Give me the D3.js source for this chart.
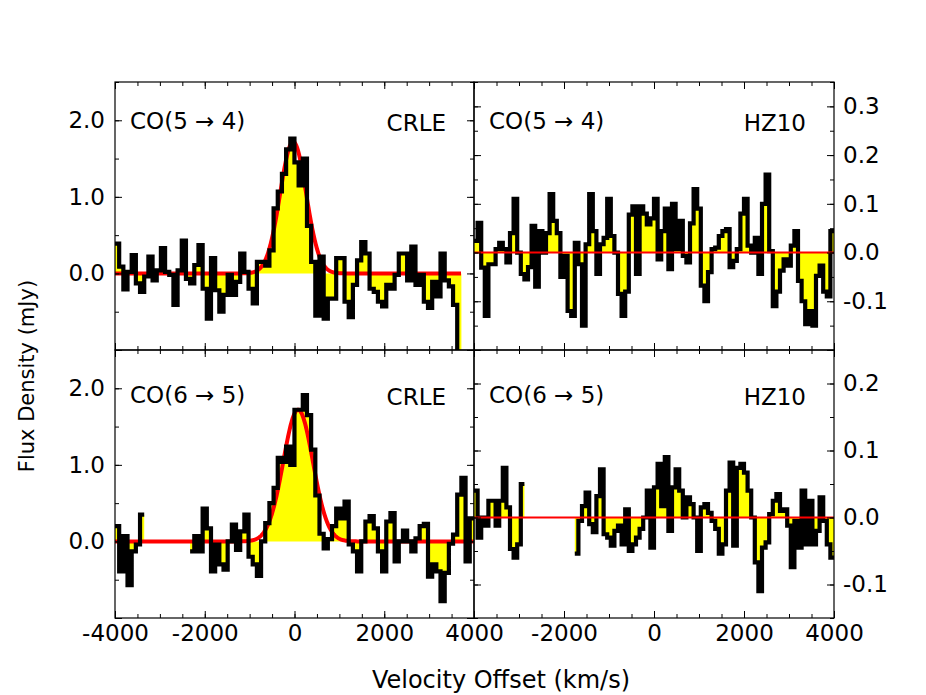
<!DOCTYPE html>
<html>
<head>
<meta charset="utf-8">
<script src="https://cdn.jsdelivr.net/npm/d3@7"></script>
<style>
  body { margin: 0; background: #fff; }
  svg text { font-family: "DejaVu Sans", sans-serif; fill: #000; }
</style>
</head>
<body>
<svg id="chart" width="926" height="695"></svg>
<script>
'use strict';

// channel grids (km/s)
const crleChanStart = -4000;
const crleChanWidth = 93;
const hz10ChanStart = -4000;
const hz10ChanWidth = 80;

// flux density per channel (mJy), null = no data
const crleCO54 = [
  0.39, 0.09, -0.21, 0.02, 0.24, -0.13, -0.24, -0.04, 0.22, -0.09,
  0.04, 0.33, 0.02, -0.02, -0.41, 0.04, 0.43, -0.07, -0.13, 0.11,
  0.37, -0.2, -0.59, 0.2, -0.22, -0.5, -0.28, -0.02, -0.28, -0.11,
  0.26, 0.02, -0.2, -0.39, 0.15, 0.15, 0.1, 0.3, 0.85, 1.07,
  1.3, 1.62, 1.76, 1.45, 1.15, 1.5, 0.62, 0.15, -0.55, 0.22,
  -0.59, -0.33, -0.33, 0.2, 0.2, -0.37, -0.57, -0.15, 0.17, 0.41,
  0.26, -0.2, -0.24, -0.37, -0.43, -0.15, -0.2, -0.02, 0.26, 0.26,
  -0.09, 0.35, -0.15, -0.02, -0.37, -0.45, -0.11, -0.3, 0.26, -0.09,
  -0.17, -0.41, -1.3
];

const crleCO65 = [
  0.2, -0.39, 0.07, -0.57, -0.13, -0.04, 0.35, null, null, null,
  null, null, null, null, null, null, null, null, -0.13, 0.07,
  -0.13, 0.43, 0.17, -0.39, -0.04, -0.3, -0.37, 0.0, 0.22, -0.11,
  0.13, 0.35, -0.2, -0.3, -0.45, 0.0, 0.24, 0.5, 0.7, 1.09,
  1.04, 1.24, 1.0, 1.72, 1.72, 1.91, 1.65, 1.2, 0.6, 0.1,
  -0.09, 0.03, 0.2, 0.43, 0.3, 0.52, -0.04, -0.13, -0.39, 0.0,
  0.26, 0.33, 0.17, -0.13, -0.39, 0.26, 0.37, -0.26, 0.0, 0.14,
  0.0, -0.13, 0.04, 0.2, 0.23, -0.46, -0.3, -0.39, -0.78, -0.41,
  -0.03, 0.09, 0.61, 0.83, -0.26, 0.3
];

const hz10CO54 = [
  0.024, 0.061, -0.031, -0.13, -0.024, -0.024, 0.007, 0.02, 0.007, -0.02,
  0.04, 0.11, 0.0, -0.044, -0.055, -0.03, 0.055, -0.07, 0.044, 0.0,
  0.04, 0.12, 0.065, 0.04, -0.05, -0.007, -0.12, -0.13, 0.02, -0.024,
  -0.15, 0.017, 0.12, 0.044, -0.044, 0.017, 0.03, 0.11, 0.034, 0.0,
  -0.085, -0.13, -0.08, 0.078, 0.095, -0.044, 0.095, 0.08, 0.058, 0.07,
  0.11, -0.014, 0.044, 0.09, -0.034, 0.1, 0.007, 0.065, -0.007, -0.02,
  0.06, 0.13, 0.09, -0.068, -0.1, -0.04, 0.007, 0.01, 0.034, 0.044,
  0.048, -0.03, -0.017, 0.007, 0.08, 0.11, 0.014, 0.0, 0.03, -0.044,
  0.1, 0.16, 0.003, -0.11, -0.08, -0.037, -0.014, -0.027, 0.014, 0.044,
  -0.058, -0.1, -0.147, -0.12, -0.15, -0.048, -0.027, -0.08, -0.09, 0.044
];

const hz10CO65 = [
  0.04, -0.03, 0.0, -0.012, 0.025, 0.025, -0.012, 0.025, 0.074, 0.015,
  -0.047, -0.06, -0.04, 0.05, null, null, null, null, null, null,
  null, null, null, null, null, null, null, null, -0.054, -0.005,
  0.017, 0.037, -0.01, -0.022, 0.032, 0.072, -0.025, -0.03, -0.042, -0.02,
  -0.012, -0.04, 0.012, -0.05, -0.04, -0.03, -0.017, 0.0, 0.04, -0.045,
  0.045, 0.08, 0.017, 0.09, -0.02, 0.045, 0.072, 0.04, 0.0, 0.03,
  0.02, 0.0, -0.05, 0.015, 0.02, 0.007, -0.005, -0.017, -0.054, -0.04,
  0.04, 0.082, -0.042, 0.074, 0.08, 0.067, 0.04, 0.0, -0.067, -0.11,
  -0.045, -0.037, 0.005, 0.025, 0.035, 0.01, 0.012, -0.012, -0.074, -0.005,
  -0.045, 0.04, -0.04, 0.025, -0.04, -0.02, 0.03, -0.005, -0.04, -0.06
];

// gaussian fits: [amplitude mJy, centre km/s, sigma km/s]; HZ10 fits are flat at 0
const crleFit54 = [1.72, -30, 290];
const crleFit65 = [1.72, 80, 330];
const hz10Fit54 = [0, 0, 1];
const hz10Fit65 = [0, 0, 1];

const lineNames = ['CO(5 \u2192 4)', 'CO(6 \u2192 5)'];
const sourceNames = ['CRLE', 'HZ10'];

// axes
const velDomain = [-4000, 4000];
const velTicks = [-4000, -2000, 0, 2000, 4000];
const velLabelsLeft = [-4000, -2000, 0, 2000, 4000];
const velLabelsRight = [-2000, 0, 2000, 4000];

const crleYDomain = [-1.0, 2.5];
const crleYTicks = [-1, 0, 1, 2];
const crleYLabels = [0, 1, 2];
const hz10Y54Domain = [-0.2, 0.35];
const hz10Y54Ticks = [-0.2, -0.1, 0, 0.1, 0.2, 0.3];
const hz10Y54Labels = [-0.1, 0, 0.1, 0.2, 0.3];
const hz10Y65Domain = [-0.15, 0.25];
const hz10Y65Ticks = [-0.1, 0, 0.1, 0.2];
const hz10Y65Labels = [-0.1, 0, 0.1, 0.2];

(function() {
  const svg = d3.select('#chart');
  const cols = [[115, 474], [474, 834]];
  const rows = [[82, 350], [350, 618]];
  const majorLen = 7;
  const minorLen = 4;
  const fontSize = 23;

  const panels = [
    {col: 0, row: 0, values: crleCO54, start: crleChanStart, width: crleChanWidth, fit: crleFit54,
     yDomain: crleYDomain, yTicks: crleYTicks, yLabels: crleYLabels, yMinorStep: 0.5},
    {col: 1, row: 0, values: hz10CO54, start: hz10ChanStart, width: hz10ChanWidth, fit: hz10Fit54,
     yDomain: hz10Y54Domain, yTicks: hz10Y54Ticks, yLabels: hz10Y54Labels, yMinorStep: 0.05},
    {col: 0, row: 1, values: crleCO65, start: crleChanStart, width: crleChanWidth, fit: crleFit65,
     yDomain: crleYDomain, yTicks: crleYTicks, yLabels: crleYLabels, yMinorStep: 0.5},
    {col: 1, row: 1, values: hz10CO65, start: hz10ChanStart, width: hz10ChanWidth, fit: hz10Fit65,
     yDomain: hz10Y65Domain, yTicks: hz10Y65Ticks, yLabels: hz10Y65Labels, yMinorStep: 0.05}
  ];

  // step points with a closing point at the right edge of each run
  function stepPoints(values, start, width) {
    const pts = [];
    values.forEach((v, k) => {
      if (v === null) { pts.push(null); return; }
      pts.push({vel: start + k * width, flux: v});
      const next = values[k + 1];
      if (next === undefined || next === null) {
        pts.push({vel: start + (k + 1) * width, flux: v});
      }
    });
    return pts;
  }

  function minorValues(domain, step) {
    const lo = Math.ceil(domain[0] / step - 1e-6);
    const hi = Math.floor(domain[1] / step + 1e-6);
    return d3.range(lo, hi + 1).map(i => +(i * step).toFixed(4));
  }

  const fmtY = d => d.toFixed(1);
  const fmtX = d => String(d);

  panels.forEach((p, i) => {
    const [x0, x1] = cols[p.col];
    const [y0, y1] = rows[p.row];
    const x = d3.scaleLinear().domain(velDomain).range([x0, x1]);
    const y = d3.scaleLinear().domain(p.yDomain).range([y1, y0]);

    const clipId = 'clip' + i;
    svg.append('clipPath').attr('id', clipId)
      .append('rect')
        .attr('x', x0).attr('y', y0)
        .attr('width', x1 - x0).attr('height', y1 - y0);

    const g = svg.append('g').attr('clip-path', `url(#${clipId})`);
    const pts = stepPoints(p.values, p.start, p.width);

    const area = d3.area()
      .defined(d => d !== null)
      .x(d => x(d.vel))
      .y0(y(0))
      .y1(d => y(d.flux))
      .curve(d3.curveStepAfter);

    const line = d3.line()
      .defined(d => d !== null)
      .x(d => x(d.vel))
      .y(d => y(d.flux))
      .curve(d3.curveStepAfter);

    g.append('path')
      .attr('d', area(pts))
      .attr('fill', '#ffff00')
      .attr('stroke', 'none');

    // fit curve
    const [amp, mu, sig] = p.fit;
    const valid = pts.filter(d => d !== null);
    const fitLo = p.col === 0 ? d3.min(valid, d => d.vel) : velDomain[0];
    const fitHi = p.col === 0 ? Math.min(d3.max(valid, d => d.vel), velDomain[1]) : velDomain[1];
    const fitPts = d3.range(fitLo, fitHi + 1, 10)
      .map(v => ({vel: v, flux: amp * Math.exp(-0.5 * Math.pow((v - mu) / sig, 2))}));
    const fitLine = d3.line().x(d => x(d.vel)).y(d => y(d.flux));

    const drawFit = () => g.append('path')
      .attr('d', fitLine(fitPts))
      .attr('fill', 'none')
      .attr('stroke', '#ff0000')
      .attr('stroke-width', p.col === 0 ? 4 : 2);

    if (p.col === 0) drawFit();

    g.append('path')
      .attr('d', line(pts))
      .attr('fill', 'none')
      .attr('stroke', '#000')
      .attr('stroke-width', 4.2)
      .attr('stroke-linejoin', 'miter');

    if (p.col === 1) drawFit();

    // ticks pointing inward on all four sides
    const xMinor = minorValues(velDomain, 500);
    const yMinor = minorValues(p.yDomain, p.yMinorStep);

    const addAxis = (axis, tx, ty) => {
      const a = svg.append('g')
        .attr('transform', `translate(${tx},${ty})`)
        .call(axis);
      a.select('.domain').remove();
      a.selectAll('line').attr('stroke', '#000').attr('stroke-width', 1);
      a.selectAll('text')
        .attr('fill', '#000')
        .style('font-size', fontSize + 'px')
        .style('font-family', '"DejaVu Sans", sans-serif');
      return a;
    };

    addAxis(d3.axisBottom(x).tickValues(xMinor).tickSize(-minorLen).tickFormat(''), 0, y1);
    addAxis(d3.axisTop(x).tickValues(xMinor).tickSize(-minorLen).tickFormat(''), 0, y0);
    addAxis(d3.axisTop(x).tickValues(velTicks).tickSize(-majorLen).tickFormat(''), 0, y0);
    addAxis(d3.axisLeft(y).tickValues(yMinor).tickSize(-minorLen).tickFormat(''), x0, 0);
    addAxis(d3.axisRight(y).tickValues(yMinor).tickSize(-minorLen).tickFormat(''), x1, 0);

    // bottom major ticks, labels only on the lower row
    addAxis(d3.axisBottom(x).tickValues(velTicks).tickSize(-majorLen).tickFormat(''), 0, y1);
    if (p.row === 1) {
      addAxis(d3.axisBottom(x)
        .tickValues(p.col === 0 ? velLabelsLeft : velLabelsRight)
        .tickSize(0).tickPadding(7).tickFormat(fmtX), 0, y1);
    }

    // y major ticks, labels on the outer side
    addAxis(d3.axisLeft(y).tickValues(p.yTicks).tickSize(-majorLen).tickFormat(''), x0, 0);
    addAxis(d3.axisRight(y).tickValues(p.yTicks).tickSize(-majorLen).tickFormat(''), x1, 0);
    if (p.col === 0) {
      addAxis(d3.axisLeft(y).tickValues(p.yLabels).tickSize(0).tickPadding(10).tickFormat(fmtY), x0, 0);
    } else {
      addAxis(d3.axisRight(y).tickValues(p.yLabels).tickSize(0).tickPadding(9).tickFormat(fmtY), x1, 0);
    }

    // frame
    svg.append('rect')
      .attr('x', x0).attr('y', y0)
      .attr('width', x1 - x0).attr('height', y1 - y0)
      .attr('fill', 'none')
      .attr('stroke', '#000')
      .attr('stroke-width', 1.2);

    // panel labels
    svg.append('text')
      .attr('x', x0 + 15)
      .attr('y', y0 + (p.row === 0 ? 47 : 53))
      .style('font-size', fontSize + 'px')
      .text(lineNames[p.row]);

    svg.append('text')
      .attr('x', x1 - 28)
      .attr('y', y0 + (p.row === 0 ? 49 : 55))
      .attr('text-anchor', 'end')
      .style('font-size', fontSize + 'px')
      .text(sourceNames[p.col]);
  });

  // axis titles
  svg.append('text')
    .attr('x', 501)
    .attr('y', 688)
    .attr('text-anchor', 'middle')
    .style('font-size', '24px')
    .text('Velocity Offset (km/s)');

  svg.append('text')
    .attr('transform', 'translate(34, 376) rotate(-90)')
    .attr('text-anchor', 'middle')
    .style('font-size', '21px')
    .text('Flux Density (mJy)');
})();
</script>
</body>
</html>
